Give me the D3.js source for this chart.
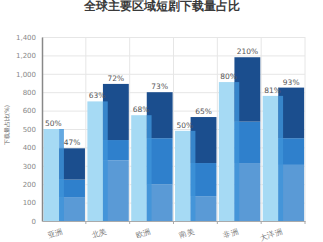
<!DOCTYPE html>
<meta charset="utf-8">
<style>
  body { margin: 0; background: #fff; }
  text { font-family: "DejaVu Sans", sans-serif; }
  .grid line { stroke: #e6e6e6; stroke-width: 1; }
  .grid path { display: none; }
</style>
<body>
<script src="https://d3js.org/d3.v7.min.js"></script>
<script>

  // data
  var categories = ["亚洲", "北美", "欧洲", "南美", "非洲", "大洋洲"];
  var lightValues = [500, 700, 575, 490, 910, 760];
  var lightLabels = ["50%", "63%", "68%", "50%", "80%", "81%"];
  var bottomSeg = [130, 330, 200, 135, 315, 305];
  var midSeg = [95, 110, 250, 180, 225, 145];
  var topSeg = [170, 450, 350, 250, 640, 400];
  var stackLabels = ["47%", "72%", "73%", "65%", "210%", "93%"];
  var yTicks = [0, 100, 200, 300, 400, 500, 600, 800, 1000, 1200, 1400];

  var width = 323, height = 242;
  var plotLeft = 42, plotRight = 305, plotTop = 37, plotBottom = 221;

  var svg = d3.select("body").append("svg")
    .attr("width", width)
    .attr("height", height);

  // x: one band per region
  var x = d3.scaleBand()
    .domain(categories)
    .range([plotLeft, plotRight])
    .padding(0);

  // y: the axis is not uniform, 0-600 in steps of 100 then 800..1400
  var y = d3.scaleLinear()
    .domain([0, 600, 1400])
    .range([plotBottom, plotBottom - (plotBottom - plotTop) * 0.6, plotTop]);

  // horizontal grid
  svg.append("g")
    .attr("class", "grid")
    .attr("transform", "translate(" + plotLeft + ",0)")
    .call(d3.axisLeft(y).tickValues(yTicks.slice(1)).tickSize(-(plotRight - plotLeft)).tickFormat(""));

  // vertical grid at the band edges
  svg.append("g").selectAll("line")
    .data(categories)
    .enter().append("line")
    .attr("x1", function (d) { return x(d) + x.bandwidth(); })
    .attr("x2", function (d) { return x(d) + x.bandwidth(); })
    .attr("y1", plotTop)
    .attr("y2", plotBottom)
    .attr("stroke", "#e6e6e6");

  var bw = x.bandwidth();
  var lightX = function (i) { return x(categories[i]) + bw * 0.035; };
  var lightW = bw * 0.355;
  var stackX = function (i) { return x(categories[i]) + bw * 0.39; };
  var stackW = bw * 0.59;

  var rows = categories.map(function (c, i) {
    return { i: i, light: lightValues[i], b: bottomSeg[i], m: midSeg[i], t: topSeg[i] };
  });

  // light bars
  svg.append("g").selectAll("rect")
    .data(rows)
    .enter().append("rect")
    .attr("x", function (d) { return lightX(d.i); })
    .attr("width", lightW)
    .attr("y", function (d) { return y(d.light); })
    .attr("height", function (d) { return plotBottom - y(d.light); })
    .attr("fill", "#a6daf4");

  // stacked bars
  var stack = d3.stack().keys(["b", "m", "t"])(rows);
  var segColors = ["#5a9ad6", "#2f80cc", "#1b4e8e"];

  svg.append("g").selectAll("g")
    .data(stack)
    .enter().append("g")
    .attr("fill", function (d, k) { return segColors[k]; })
    .selectAll("rect")
    .data(function (d) { return d; })
    .enter().append("rect")
    .attr("x", function (d) { return stackX(d.data.i); })
    .attr("width", stackW)
    .attr("y", function (d) { return y(d[1]); })
    .attr("height", function (d) { return y(d[0]) - y(d[1]); });

  // shadow strip next to the light bar
  svg.append("g").selectAll("rect")
    .data(rows)
    .enter().append("rect")
    .attr("x", function (d) { return stackX(d.i); })
    .attr("width", bw * 0.11)
    .attr("y", function (d) { return y(d.light); })
    .attr("height", function (d) { return plotBottom - y(d.light); })
    .attr("fill", "#3f93da")
    .attr("opacity", 0.8);

  // value labels
  svg.append("g").selectAll("text")
    .data(rows)
    .enter().append("text")
    .attr("x", function (d) { return lightX(d.i) + lightW / 2 + 2; })
    .attr("y", function (d) { return y(d.light) - 3; })
    .attr("text-anchor", "middle")
    .attr("font-size", "7.5px")
    .attr("fill", "#555")
    .text(function (d) { return lightLabels[d.i]; });

  svg.append("g").selectAll("text")
    .data(rows)
    .enter().append("text")
    .attr("x", function (d) { return stackX(d.i) + stackW / 2; })
    .attr("y", function (d) { return y(d.b + d.m + d.t) - 3; })
    .attr("text-anchor", "middle")
    .attr("font-size", "7.5px")
    .attr("fill", "#555")
    .text(function (d) { return stackLabels[d.i]; });

  // y axis
  var yAxis = svg.append("g")
    .attr("transform", "translate(" + plotLeft + ",0)")
    .call(d3.axisLeft(y).tickValues(yTicks).tickSize(0).tickPadding(6).tickFormat(d3.format(",")));
  yAxis.select(".domain").attr("stroke", "#888").attr("stroke-width", 1.5);
  yAxis.selectAll("text").attr("font-size", "7px").attr("fill", "#888")
    .style("font-family", "DejaVu Sans, sans-serif");

  // x axis
  var xAxis = svg.append("g")
    .attr("transform", "translate(0," + plotBottom + ")")
    .call(d3.axisBottom(x).tickSize(0).tickFormat(""));
  xAxis.select(".domain").attr("stroke", "#aaa");
  xAxis.selectAll("line.edge")
    .data(categories)
    .enter().append("line")
    .attr("x1", function (d) { return x(d) + bw; })
    .attr("x2", function (d) { return x(d) + bw; })
    .attr("y1", 0)
    .attr("y2", 3)
    .attr("stroke", "#aaa");

  svg.append("g").selectAll("text")
    .data(categories)
    .enter().append("text")
    .attr("transform", function (d) {
      return "translate(" + (x(d) + bw / 2) + "," + (plotBottom + 12) + ") rotate(-20)";
    })
    .attr("text-anchor", "end")
    .attr("font-size", "7.5px")
    .attr("fill", "#777")
    .text(function (d) { return d; });

  // y title
  svg.append("text")
    .attr("transform", "translate(9,125) rotate(-90)")
    .attr("text-anchor", "middle")
    .attr("font-size", "6px")
    .attr("fill", "#666")
    .text("下载量占比(%)");

  // title
  svg.append("text")
    .attr("x", 162)
    .attr("y", 10)
    .attr("text-anchor", "middle")
    .attr("font-size", "12px")
    .attr("font-weight", "bold")
    .attr("fill", "#3a3a3a")
    .text("全球主要区域短剧下载量占比");

</script>
</body>
